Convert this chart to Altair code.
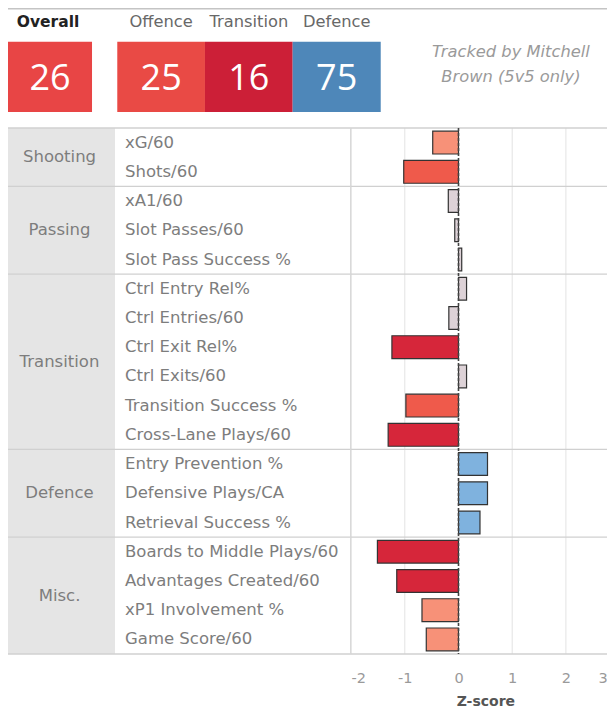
import altair as alt
import pandas as pd

# ---------------- data ----------------
metrics = [
    "xG/60", "Shots/60",
    "xA1/60", "Slot Passes/60", "Slot Pass Success %",
    "Ctrl Entry Rel%", "Ctrl Entries/60", "Ctrl Exit Rel%", "Ctrl Exits/60",
    "Transition Success %", "Cross-Lane Plays/60",
    "Entry Prevention %", "Defensive Plays/CA", "Retrieval Success %",
    "Boards to Middle Plays/60", "Advantages Created/60", "xP1 Involvement %", "Game Score/60",
]
zscores = [
    -0.48, -1.02,
    -0.19, -0.07, 0.06,
    0.15, -0.18, -1.24, 0.15, -0.98, -1.31,
    0.54, 0.54, 0.40,
    -1.51, -1.15, -0.68, -0.60,
]
group_names = ["Shooting", "Passing", "Transition", "Defence", "Misc."]
group_sizes = [2, 3, 6, 3, 4]

header_cats = ["Overall", "Offence", "Transition", "Defence"]
header_scores = [26, 25, 16, 75]
note_lines = ["Tracked by Mitchell", "Brown (5v5 only)"]

axis_ticks = [-2, -1, 0, 1, 2, 3]
grid_values = [-2, -1, 1, 2, 3]

# ---------------- style / layout ----------------
FONT = "DejaVu Sans"
NUMFONT = "Open Sans"
W, H = 599, 646
header_colors = ["#e84545", "#e94a45", "#cc1f37", "#4e87b9"]
slot_start = [0.0, 1.246, 2.246, 3.246]      # header box slots (layout units)
slot_end = [0.958, 2.246, 3.246, 4.25]
SLOT_PX = 87.7
note_slot = 5.735
bar_colors = ["#d6263a", "#ef5a4b", "#f79178", "#ddd2d7", "#7fb2de"]

n = len(metrics)
body = pd.DataFrame({
    "metric": metrics,
    "z": zscores,
    "row": list(range(n)),
})
body["y0"] = body["row"] + 0.11
body["y1"] = body["row"] + 0.89
body["ymid"] = body["row"] + 0.5

starts, ends = [], []
s = 0
for g in group_sizes:
    starts.append(s)
    ends.append(s + g)
    s += g
groups = pd.DataFrame({"group": group_names, "start": starts, "end": ends})
groups["mid"] = (groups["start"] + groups["end"]) / 2
bounds = pd.DataFrame({"b": [0] + ends})
grid = pd.DataFrame({"g": grid_values, "top": 0, "bottom": n})
zero = pd.DataFrame({"g": [0], "top": 0, "bottom": n})
panel = pd.DataFrame({"top": [0], "bottom": [n]})

yscale = alt.Scale(domain=[0, n], range=[120, 646], nice=False, zero=False)
xscale = alt.Scale(domain=[-2, 3], range=[343.1, 611.6], nice=False, zero=False)
xaxis = alt.Axis(values=axis_ticks, ticks=False, tickSize=0, domain=False, grid=False,
                 labelExpr="'' + datum.value",
                 labelFont=FONT, labelFontSize=14.5, labelColor="#9a9a9a",
                 labelPadding=17, labelFlush=False, labelBound=False,
                 labelAlign={"condition": {"test": "datum.value == -2", "value": "left"},
                             "value": "center"},
                 labelOffset={"condition": {"test": "datum.value == 3", "value": -17},
                              "value": 0},
                 title="Z-score", titleFont=FONT,
                 titleFontSize=14, titleColor="#555555", titleFontWeight="bold",
                 titlePadding=10)

def Y(field):
    return alt.Y(field, type="quantitative", scale=yscale, axis=None)

panel_l = alt.Chart(panel).mark_rect(color="#e5e5e5").encode(
    x=alt.value(0), x2=alt.value(107), y=Y("top"), y2="bottom")

grid_l = alt.Chart(grid).mark_rule(color="#e3e3e3", strokeWidth=1).encode(
    x=alt.X("g:Q", scale=xscale, axis=xaxis), y=Y("top"), y2="bottom")

sep_l = alt.Chart(bounds).mark_rule(color="#d0d0d0", strokeWidth=1.3).encode(
    x=alt.value(0), x2=alt.value(W), y=Y("b"))

vline_l = alt.Chart(panel).mark_rule(color="#d6d6d6", strokeWidth=1.2).encode(
    x=alt.value(342.7), y=Y("top"), y2="bottom")

bars_l = alt.Chart(body).mark_rect(stroke="#333333", strokeWidth=1.2).encode(
    x=alt.X("z:Q", scale=xscale, axis=xaxis),
    x2=alt.datum(0),
    y=Y("y0"), y2="y1",
    color=alt.Color("z:Q", scale=alt.Scale(type="threshold",
                                           domain=[-1.1, -0.9, -0.3, 0.3],
                                           range=bar_colors), legend=None),
)

zero_l = alt.Chart(zero).mark_rule(color="#444444", strokeWidth=1.6,
                                   strokeDash=[3, 2]).encode(
    x=alt.X("g:Q", scale=xscale, axis=xaxis), y=Y("top"), y2="bottom")

metric_l = alt.Chart(body).mark_text(align="left", baseline="middle", font=FONT,
                                     fontSize=16.5, color="#7d7d7d").encode(
    x=alt.value(117), y=Y("ymid"), text="metric:N")

group_l = alt.Chart(groups).mark_text(align="center", baseline="middle", font=FONT,
                                      fontSize=16.5, color="#7d7d7d").encode(
    x=alt.value(51.5), y=Y("mid"), text="group:N")

body_layer = alt.layer(panel_l, grid_l, sep_l, vline_l, bars_l, zero_l,
                       metric_l, group_l)

# ---------------- header ----------------
head = pd.DataFrame({
    "cat": header_cats,
    "score": header_scores,
    "s0": slot_start,
    "s1": slot_end,
})
head["smid"] = (head["s0"] + head["s1"]) / 2
head["ybox0"] = -2.95
head["ybox1"] = -0.55
head["ynum"] = -1.69
head["ylab"] = -3.63
hscale = alt.Scale(domain=[0, W / SLOT_PX], range=[0, W], nice=False, zero=False)

box_l = alt.Chart(head).mark_rect().encode(
    x=alt.X("s0:Q", scale=hscale, axis=None), x2="s1",
    y=Y("ybox0"), y2="ybox1",
    color=alt.Color("cat:N", scale=alt.Scale(domain=header_cats, range=header_colors),
                    legend=None),
)
num_l = alt.Chart(head).mark_text(align="center", baseline="middle", font=NUMFONT,
                                  fontSize=36, color="white").encode(
    x=alt.X("smid:Q", scale=hscale, axis=None), y=Y("ynum"), text="score:Q")

lab_main = alt.Chart(head).transform_filter(alt.datum.cat == "Overall").mark_text(
    align="center", baseline="middle", font=FONT, fontSize=15.5, fontWeight="bold",
    color="#222222", dx=-2).encode(
    x=alt.X("smid:Q", scale=hscale, axis=None), y=Y("ylab"), text="cat:N")
lab_sub = alt.Chart(head).transform_filter(alt.datum.cat != "Overall").mark_text(
    align="center", baseline="middle", font=FONT, fontSize=16.3,
    color="#686868").encode(
    x=alt.X("smid:Q", scale=hscale, axis=None), y=Y("ylab"), text="cat:N")

note = pd.DataFrame({"line": note_lines, "s": [note_slot, note_slot], "yy": [-2.61, -1.76]})
note_l = alt.Chart(note).mark_text(align="center", baseline="middle", font=FONT,
                                   fontSize=16.3, fontStyle="italic",
                                   color="#9a9a9a").encode(
    x=alt.X("s:Q", scale=hscale, axis=None), y=Y("yy"), text="line:N")

topline = pd.DataFrame({"yy": [-4.08]})
top_l = alt.Chart(topline).mark_rule(color="#c4c4c4", strokeWidth=1.5).encode(
    x=alt.value(0), x2=alt.value(W), y=Y("yy"))

header_layer = alt.layer(top_l, box_l, num_l, lab_main, lab_sub, note_l)

chart = alt.layer(header_layer, body_layer).resolve_scale(
    x="independent", color="independent"
).properties(
    width=W, height=H, background="white",
    padding={"left": 0, "top": 0, "right": 0, "bottom": 57},
    autosize=alt.AutoSizeParams(type="none"),
).configure_view(stroke=None)

chart.save("out.html", embed_options={"renderer": "svg", "actions": False})
